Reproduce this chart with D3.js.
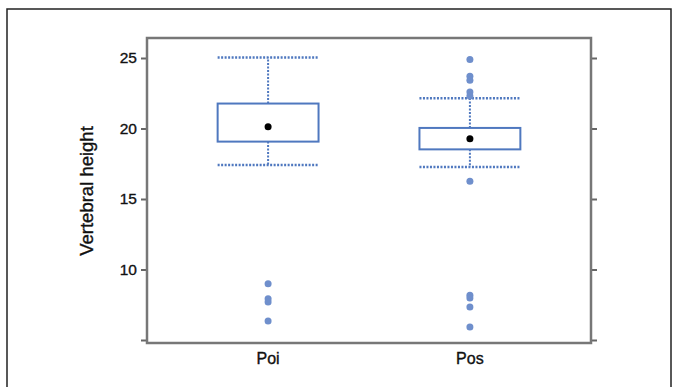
<!DOCTYPE html>
<html>
<head>
<meta charset="utf-8">
<script src="https://cdn.jsdelivr.net/npm/d3@7"></script>
<style>
  body { margin: 0; background: #fff; }
  text { font-family: "Liberation Sans", Arial, sans-serif; fill: #111; stroke: #111; stroke-width: 0.35px; }
</style>
</head>
<body>
<div id="container"></div>
<script>
// box plot values
var categories = ["Poi", "Pos"];
var q1 = [19.07, 18.52];
var q3 = [21.77, 20.04];
var means = [20.13, 19.28];
var whiskerLow = [17.41, 17.27];
var whiskerHigh = [25.03, 22.14];
var outliersPoi = [8.99, 7.93, 7.70, 6.35];
var outliersPos = [24.89, 23.7, 23.42, 22.59, 22.3, 16.26, 8.17, 7.98, 7.34, 5.92];
var yTicks = [5, 10, 15, 20, 25];
var yTickLabels = ["", "10", "15", "20", "25"];

var W = 678, H = 387;
var frame = {left: 147, right: 591, top: 38, bottom: 343};
var blue = "#4f78bf";

var svg = d3.select("#container").append("svg")
    .attr("width", W).attr("height", H);

// outer border
svg.append("rect")
    .attr("x", 7).attr("y", 9)
    .attr("width", 664).attr("height", 390)
    .attr("fill", "none")
    .attr("stroke", "#222")
    .attr("stroke-width", 1.5);

var y = d3.scaleLinear().domain([5, 25]).range([340, 58]);
var x = d3.scalePoint().domain(categories)
    .range([frame.left, frame.right]).padding(0.6);
var half = x.step() * 0.25;

// left axis
var left = svg.append("g")
    .attr("transform", "translate(" + frame.left + ",0)")
    .call(d3.axisLeft(y).tickValues(yTicks)
          .tickFormat(function(d, i){ return yTickLabels[i]; })
          .tickSize(6).tickPadding(4));
left.select(".domain").remove();
left.selectAll("line").attr("stroke", "#666").attr("stroke-width", 2);
left.selectAll("text").style("font-size", "15.5px").attr("fill", "#111");

// right axis (ticks only)
var right = svg.append("g")
    .attr("transform", "translate(" + frame.right + ",0)")
    .call(d3.axisRight(y).tickValues(yTicks).tickFormat("").tickSize(6));
right.select(".domain").remove();
right.selectAll("line").attr("stroke", "#666").attr("stroke-width", 2);

// frame
svg.append("rect")
    .attr("x", frame.left).attr("y", frame.top)
    .attr("width", frame.right - frame.left)
    .attr("height", frame.bottom - frame.top)
    .attr("fill", "none")
    .attr("stroke", "#777")
    .attr("stroke-width", 2.5);

// category labels
svg.selectAll("text.cat").data(categories).enter().append("text")
    .attr("class", "cat")
    .attr("x", function(d){ return x(d); })
    .attr("y", 364)
    .attr("text-anchor", "middle")
    .style("font-size", "16px")
    .text(function(d){ return d; });

// y label
svg.append("text")
    .attr("transform", "translate(93,191) rotate(-90)")
    .attr("text-anchor", "middle")
    .style("font-size", "18.5px")
    .text("Vertebral height");

var boxes = svg.append("g");
categories.forEach(function(c, i){
    var cx = x(c);
    var g = boxes.append("g");

    // whiskers
    g.append("line")
        .attr("x1", cx).attr("x2", cx)
        .attr("y1", y(q3[i])).attr("y2", y(whiskerHigh[i]))
        .attr("stroke", blue).attr("stroke-width", 2)
        .attr("stroke-dasharray", "2,1.5");
    g.append("line")
        .attr("x1", cx).attr("x2", cx)
        .attr("y1", y(q1[i])).attr("y2", y(whiskerLow[i]))
        .attr("stroke", blue).attr("stroke-width", 2)
        .attr("stroke-dasharray", "2,1.5");
    [whiskerLow[i], whiskerHigh[i]].forEach(function(v){
        g.append("line")
            .attr("x1", cx - half).attr("x2", cx + half)
            .attr("y1", y(v)).attr("y2", y(v))
            .attr("stroke", blue).attr("stroke-width", 2.5)
            .attr("stroke-dasharray", "2,1.5");
    });

    // box
    g.append("rect")
        .attr("x", cx - half).attr("y", y(q3[i]))
        .attr("width", half * 2)
        .attr("height", y(q1[i]) - y(q3[i]))
        .attr("fill", "#fff")
        .attr("stroke", blue).attr("stroke-width", 2);

    // mean
    g.append("circle")
        .attr("cx", cx).attr("cy", y(means[i]))
        .attr("r", 3.5).attr("fill", "#000");

    // outliers
    var outs = i == 0 ? outliersPoi : outliersPos;
    g.selectAll("circle.out").data(outs).enter().append("circle")
        .attr("class", "out")
        .attr("cx", cx).attr("cy", function(d){ return y(d); })
        .attr("r", 3.5)
        .attr("fill", "#6f8fcc");
});
</script>
</body>
</html>
